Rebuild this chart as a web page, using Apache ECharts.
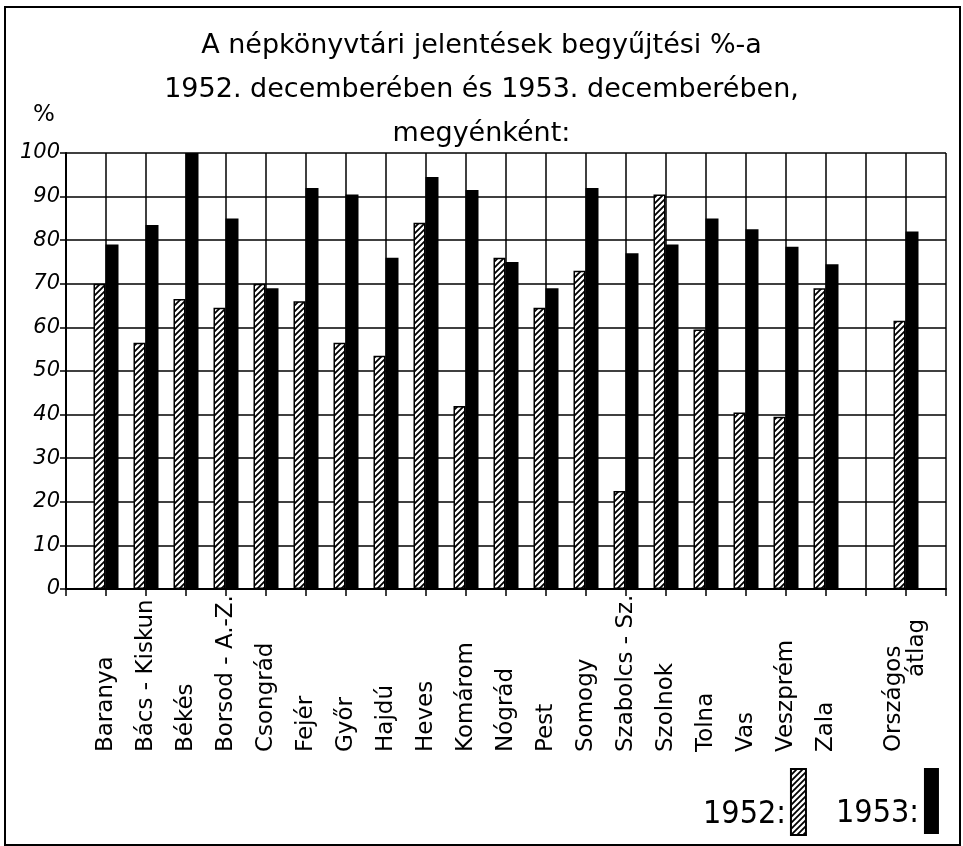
<!DOCTYPE html>
<html>
<head>
<meta charset="utf-8">
<script src="https://cdn.jsdelivr.net/npm/echarts@6/dist/echarts.min.js"></script>
<style>
html,body{margin:0;padding:0;background:#fff;}
#main{width:963px;height:846px;}
</style>
</head>
<body>
<div id="main"></div>
<script>
var categories = ['', 'Baranya', 'Bács - Kiskun', 'Békés', 'Borsod - A.-Z.', 'Csongrád', 'Fejér', 'Győr', 'Hajdú', 'Heves', 'Komárom', 'Nógrád', 'Pest', 'Somogy', 'Szabolcs - Sz.', 'Szolnok', 'Tolna', 'Vas', 'Veszprém', 'Zala', '', 'Országos átlag', ''];
var values1952 = [null, 70, 56.5, 66.5, 64.5, 70, 66, 56.5, 53.5, 84, 42, 76, 64.5, 73, 22.5, 90.5, 59.5, 40.5, 39.5, 69, null, 61.5, null];
var values1953 = [null, 79, 83.5, 100, 85, 69, 92, 90.5, 76, 94.5, 91.5, 75, 69, 92, 77, 79, 85, 82.5, 78.5, 74.5, null, 82, null];
var yTicks = [0, 10, 20, 30, 40, 50, 60, 70, 80, 90, 100];
var seriesNames = ['1952', '1953'];
var titleText = 'A népkönyvtári jelentések begyűjtési %-a\n1952. decemberében és 1953. decemberében,\nmegyénként:';

function hatch() {
  var c = document.createElement('canvas');
  c.width = 6; c.height = 6;
  var g = c.getContext('2d');
  g.fillStyle = '#fff'; g.fillRect(0, 0, 6, 6);
  g.strokeStyle = '#000'; g.lineWidth = 1.8;
  g.beginPath();
  g.moveTo(-1, 7); g.lineTo(7, -1);
  g.moveTo(-4, 4); g.lineTo(4, -4);
  g.moveTo(2, 10); g.lineTo(10, 2);
  g.stroke();
  return c;
}

var legendBase = {
  align: 'right',
  icon: 'rect',
  itemWidth: 15, itemHeight: 66,
  formatter: '{t|{name}:}',
  textStyle: {
    fontFamily: 'DejaVu Sans Condensed', fontSize: 32, color: '#000',
    rich: { t: { fontFamily: 'DejaVu Sans Condensed', fontSize: 32, color: '#000', padding: [26, 0, 0, 0] } }
  }
};

var chart = echarts.init(document.getElementById('main'));
var font = 'DejaVu Sans';
chart.setOption({
  backgroundColor: '#fff',
  animation: false,
  title: {
    text: titleText,
    left: 'center', top: 19,
    textStyle: { fontFamily: font, fontWeight: 'normal', fontSize: 27, lineHeight: 44, color: '#000' }
  },
  legend: [
    Object.assign({}, legendBase, { data: [seriesNames[0]], left: 698, top: 763 }),
    Object.assign({}, legendBase, { data: [seriesNames[1]], left: 831, top: 763 })
  ],
  graphic: [
    { type: 'rect', shape: { x: 5, y: 7, width: 955, height: 838 }, style: { fill: 'none', stroke: '#000', lineWidth: 2 }, z: -1 },
    { type: 'text', left: 33, top: 104, style: { text: '%', fontFamily: font, fontSize: 23, fill: '#000' } }
  ],
  grid: { left: 66, right: 17, top: 153, bottom: 257 },
  xAxis: {
    type: 'category',
    data: categories,
    boundaryGap: false,
    axisLine: { lineStyle: { color: '#000', width: 2 } },
    axisTick: { show: true, length: 7, interval: 0, lineStyle: { color: '#000', width: 1.5 } },
    splitLine: { show: true, interval: 0, lineStyle: { color: '#000', width: 1.5 } },
    axisLabel: {
      interval: 0, rotate: 90, align: 'left', margin: 163,
      fontFamily: font, fontSize: 23, color: '#000',
      formatter: function (v) {
        if (v === 'Országos átlag') return '{a|Országos}\n{b|átlag}';
        return v;
      },
      rich: {
        a: { fontFamily: font, fontSize: 23, color: '#000' },
        b: { fontFamily: font, fontSize: 23, color: '#000', padding: [0, 0, 0, 75] }
      }
    }
  },
  yAxis: {
    type: 'value',
    min: yTicks[0], max: yTicks[yTicks.length - 1], interval: 10,
    axisLine: { show: true, lineStyle: { color: '#000', width: 2 } },
    axisTick: { show: true, length: 6, lineStyle: { color: '#000', width: 1.5 } },
    splitLine: { show: true, lineStyle: { color: '#000', width: 1.5 } },
    axisLabel: { fontFamily: font, fontStyle: 'italic', fontSize: 21, color: '#000', margin: 6 }
  },
  series: [
    {
      name: seriesNames[0], type: 'bar', data: values1952,
      barWidth: 12, barGap: '0%',
      itemStyle: { color: { image: hatch(), repeat: 'repeat' }, borderColor: '#000', borderWidth: 1.5 }
    },
    {
      name: seriesNames[1], type: 'bar', data: values1953,
      barWidth: 13,
      itemStyle: { color: '#000', borderColor: '#000', borderWidth: 0 }
    }
  ]
});
</script>
</body>
</html>
